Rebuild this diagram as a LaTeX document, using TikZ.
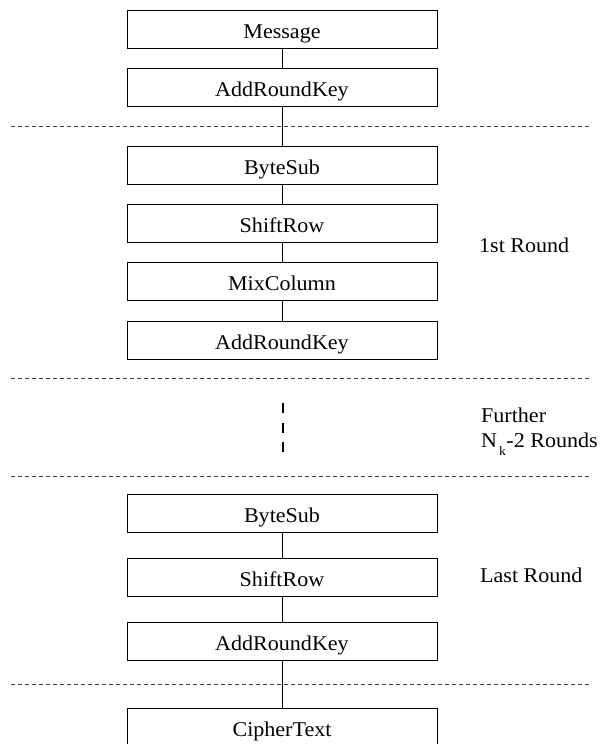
\documentclass[tikz,border=0pt]{standalone}
\usepackage{fontspec}
\setmainfont[FakeStretch=1.05]{Liberation Serif}
\begin{document}
\begin{tikzpicture}[x=1pt,y=-1pt,
  stage/.style={draw=black,line width=0.9pt,minimum width=310pt,minimum height=38pt,inner sep=0pt,text height=20pt,text depth=1.4pt,font=\fontsize{21}{25}\selectfont},
  lbl/.style={anchor=base west,inner sep=0pt,font=\fontsize{21}{25}\selectfont,align=left},
  sep/.style={draw=black!75,line width=0.8pt,dash pattern=on 4pt off 3pt},
  link/.style={draw=black,line width=0.9pt}]
\useasboundingbox (0,0) rectangle (607,744);
\node[stage] (msg) at (282,29) {Message};
\node[stage] (ark0) at (282,87.5) {AddRoundKey};
\node[stage] (bs1) at (282,165) {ByteSub};
\node[stage] (sr1) at (282,223.5) {ShiftRow};
\node[stage] (mc1) at (282,281.5) {MixColumn};
\node[stage] (ark1) at (282,340) {AddRoundKey};
\node[stage] (bs2) at (282,513.5) {ByteSub};
\node[stage] (sr2) at (282,577.5) {ShiftRow};
\node[stage] (ark2) at (282,641) {AddRoundKey};
\node[stage] (ct) at (282,727) {CipherText};
\coordinate (d1a) at (11,126); \coordinate (d1b) at (590,126);
\coordinate (d2a) at (11,378); \coordinate (d2b) at (590,378);
\coordinate (d3a) at (11,476); \coordinate (d3b) at (590,476);
\coordinate (d4a) at (11,684); \coordinate (d4b) at (590,684);
\coordinate (va) at (283,403); \coordinate (vb) at (283,452);
\draw[sep] (d1a) -- (d1b);
\draw[sep] (d2a) -- (d2b);
\draw[sep] (d3a) -- (d3b);
\draw[sep] (d4a) -- (d4b);
\draw[line width=1.3pt,dash pattern=on 10pt off 9.5pt] (va) -- (vb);
\draw[link] (msg.south) -- (ark0.north);
\draw[link] (ark0.south) -- (bs1.north);
\draw[link] (bs1.south) -- (sr1.north);
\draw[link] (sr1.south) -- (mc1.north);
\draw[link] (mc1.south) -- (ark1.north);
\draw[link] (bs2.south) -- (sr2.north);
\draw[link] (sr2.south) -- (ark2.north);
\draw[link] (ark2.south) -- (ct.north);
\node[lbl] (r1) at (479,252) {1st Round};
\node[lbl] (rf) at (481,422) {Further};
\node[lbl] (rn) at (481,447) {N\hspace{2pt}\raisebox{-8pt}{\fontsize{13}{14}\selectfont k}\hspace{0.5pt}-2 Rounds};
\node[lbl] (rl) at (480,582) {Last Round};
\end{tikzpicture}
\end{document}
